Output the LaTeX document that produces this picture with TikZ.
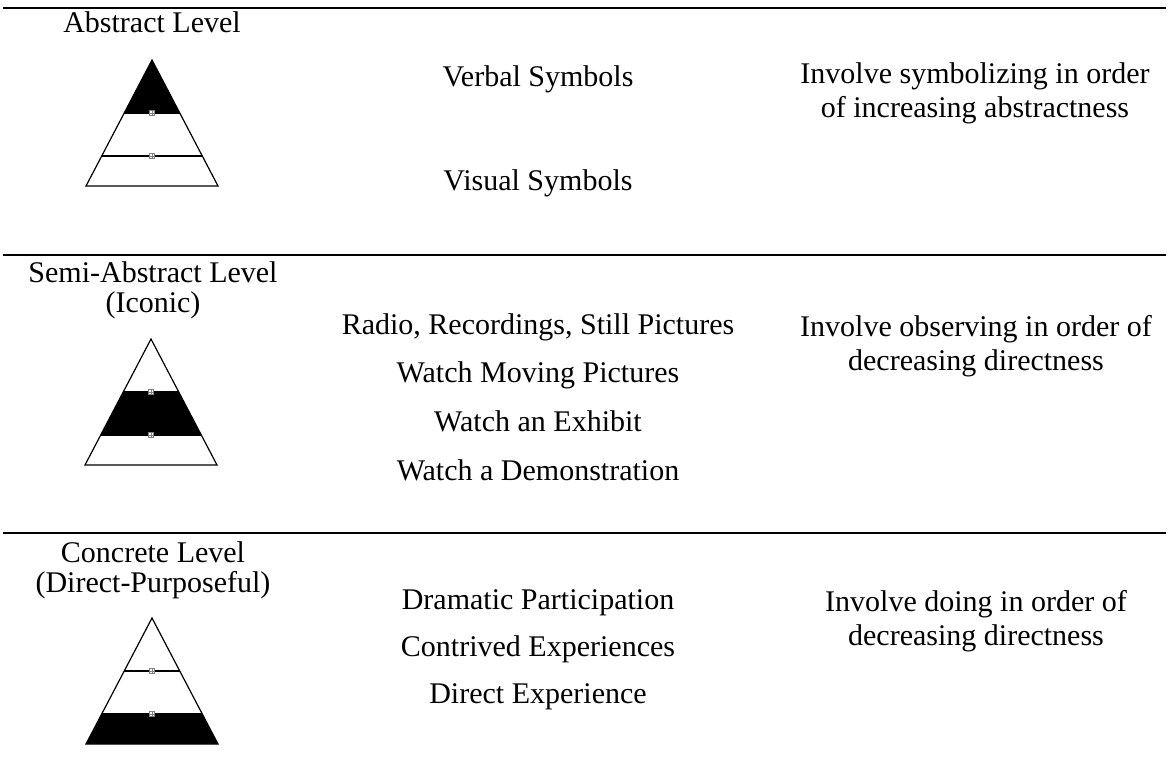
\documentclass[tikz,border=0pt]{standalone}
\usepackage{fontspec}
\setmainfont{Liberation Serif}
\tikzset{
  lbl/.style={anchor=base, inner sep=0pt, font=\fontsize{30}{36}\selectfont},
  rulerline/.style={line width=2.2pt},
  triline/.style={line width=1.2pt},
  bandmarker/.style={draw=gray, fill=white, line width=0.5pt},
}
% #1 x of apex, #2 y of apex, #3 which band is black (1 top, 2 middle, 3 bottom)
\newcommand{\mypyramid}[3]{%
  \begin{scope}[shift={(#1,#2)}]
    \coordinate (A) at (0,0);
    \coordinate (L1) at (-27.8,53); \coordinate (R1) at (27.8,53);
    \coordinate (L2) at (-50.3,96); \coordinate (R2) at (50.3,96);
    \coordinate (L3) at (-66,126);  \coordinate (R3) at (66,126);
    \ifcase#3\or
      \fill (A) -- (R1) -- (L1) -- cycle;
    \or
      \fill (L1) -- (R1) -- (R2) -- (L2) -- cycle;
    \or
      \fill (L2) -- (R2) -- (R3) -- (L3) -- cycle;
    \fi
    \draw[triline] (A) -- (R3) -- (L3) -- cycle;
    \draw[triline] (L1) -- (R1);
    \draw[triline] (L2) -- (R2);
    \foreach \yy in {53,96}{
      \draw[bandmarker] (-2.6,\yy-2.6) rectangle (2.6,\yy+2.6);
      \draw[gray, line width=0.4pt] (0,\yy-2.6) -- (0,\yy+2.6);
      \draw[gray, line width=0.4pt] (-2.6,\yy) -- (2.6,\yy);
    }
  \end{scope}%
}
\begin{document}
\begin{tikzpicture}[x=1pt,y=-1pt]
\useasboundingbox (0,0) rectangle (1172,757);

% rules
\coordinate (r1a) at (3,8);   \coordinate (r1b) at (1166,8);
\coordinate (r2a) at (3,255); \coordinate (r2b) at (1166,255);
\coordinate (r3a) at (3,533); \coordinate (r3b) at (1166,533);
\draw[rulerline] (r1a) -- (r1b);
\draw[rulerline] (r2a) -- (r2b);
\draw[rulerline] (r3a) -- (r3b);

% pyramids
\mypyramid{152}{60}{1}
\mypyramid{151}{339}{2}
\mypyramid{152}{618}{3}

% block 1
\node[lbl] (abs) at (152,33) {Abstract Level};
\node[lbl] (verbal) at (538,87) {Verbal Symbols};
\node[lbl] (visual) at (538,190) {Visual Symbols};
\node[lbl] (inv1a) at (975,84) {Involve symbolizing in order};
\node[lbl] (inv1b) at (975,118) {of increasing abstractness};

% block 2
\node[lbl] (semi) at (153,282) {Semi-Abstract Level};
\node[lbl] (iconic) at (153,312) {(Iconic)};
\node[lbl] (radio) at (538,334) {Radio, Recordings, Still Pictures};
\node[lbl] (moving) at (538,382) {Watch Moving Pictures};
\node[lbl] (exhibit) at (538,431) {Watch an Exhibit};
\node[lbl] (demo) at (538,480) {Watch a Demonstration};
\node[lbl] (inv2a) at (976,336) {Involve observing in order of};
\node[lbl] (inv2b) at (976,370) {decreasing directness};

% block 3
\node[lbl] (conc) at (153,562) {Concrete Level};
\node[lbl] (direct) at (153,592) {(Direct-Purposeful)};
\node[lbl] (drama) at (538,609) {Dramatic Participation};
\node[lbl] (contr) at (538,656) {Contrived Experiences};
\node[lbl] (dexp) at (538,703) {Direct Experience};
\node[lbl] (inv3a) at (976,611) {Involve doing in order of};
\node[lbl] (inv3b) at (976,645) {decreasing directness};
\end{tikzpicture}
\end{document}
